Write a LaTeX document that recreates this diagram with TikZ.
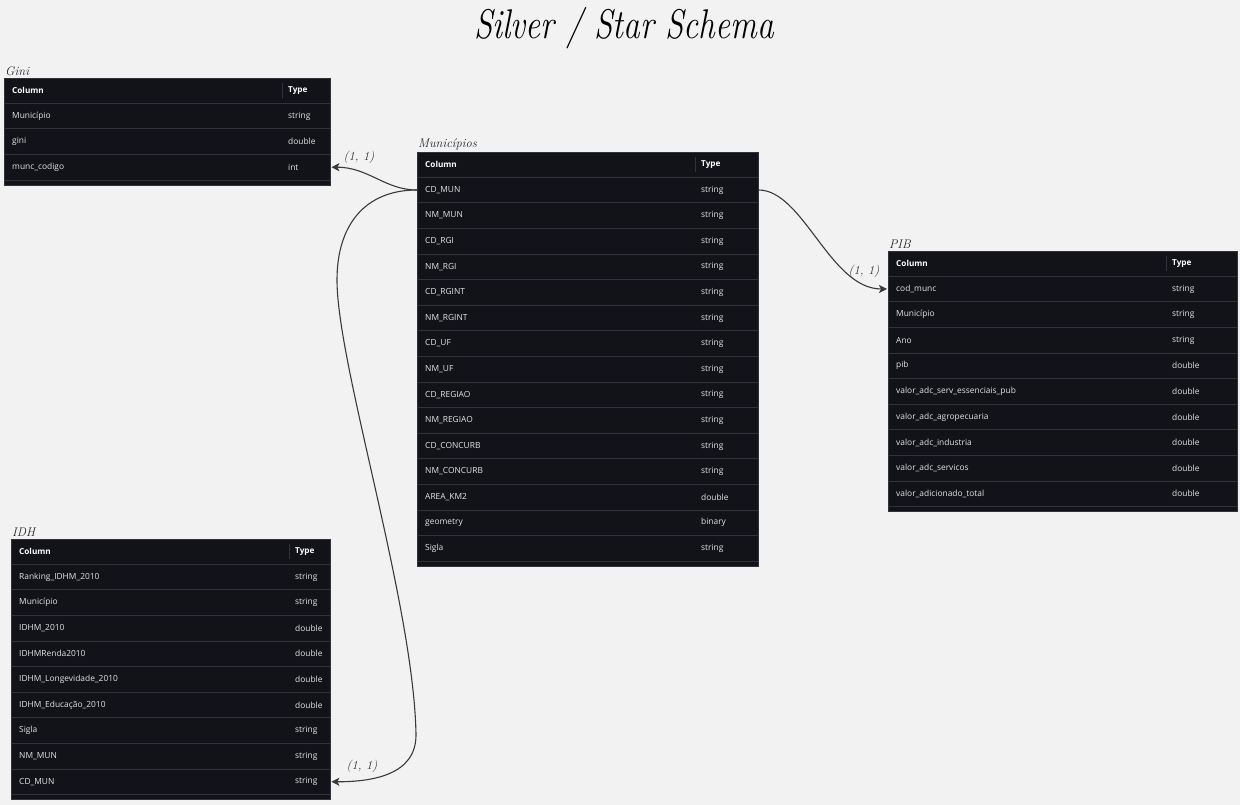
\documentclass[tikz,border=0pt]{standalone}
\usepackage{fontspec}
\usepackage{xcolor}
\usepackage{tikz}
\usetikzlibrary{arrows.meta,positioning,calc}
\newfontfamily\tblfont{Open Sans}
\definecolor{pagebg}{HTML}{F2F2F2}
\definecolor{tblfill}{HTML}{111318}
\definecolor{tblline}{HTML}{30343A}
\definecolor{tbltext}{HTML}{E2E4E7}
\definecolor{linkgray}{HTML}{3A3A3A}

% #1 name, #2 caption, #3 top left, #4 width, #5 rows, #6 column/type list
\newcommand{\dbtable}[6]{%
  \node[tbl,minimum width=#4,minimum height={30pt+#5*25.6pt},anchor=north west] (#1) at #3 {};
  \node[caption,anchor=south west] at ([yshift=1pt]#1.north west) {#2};
  \node[hdr,minimum width=#4,anchor=north west] (#1-0) at (#1.north west) {};
  \node[head,anchor=west] at ([xshift=8pt]#1-0.west) {Column};
  \node[head,anchor=west] at ([xshift=284pt]#1-0.west) {Type};
  \draw[tblline] ([xshift=278pt,yshift=-5pt]#1-0.north west) -- ([xshift=278pt,yshift=5pt]#1-0.south west);
  \foreach \col/\typ [count=\i] in {#6} {
    \node[rowbox,minimum width=#4,anchor=north west] (#1-\i) at ([yshift={-25pt-(\i-1)*25.6pt}]#1.north west) {};
    \draw[tblline] (#1-\i.north west) -- (#1-\i.north east);
    \node[cell,anchor=west] at ([xshift=8pt]#1-\i.west) {\col};
    \node[cell,anchor=west] at ([xshift=284pt]#1-\i.west) {\typ};
  }
  \draw[tblline] ([yshift={-25pt-#5*25.6pt}]#1.north west) -- ++(#4,0);
}

\begin{document}
\begin{tikzpicture}[x=1pt,y=1pt,
  tbl/.style={fill=tblfill,draw=tblline,line width=0.6pt,inner sep=0pt},
  hdr/.style={inner sep=0pt,minimum height=25pt},
  rowbox/.style={inner sep=0pt,minimum height=25.6pt},
  head/.style={font=\tblfont\fontsize{8.2}{9}\selectfont\bfseries,text=white,inner sep=0pt},
  cell/.style={font=\tblfont\fontsize{8.4}{9}\selectfont,text=tbltext,inner sep=0pt},
  caption/.style={font=\fontsize{12.5}{14}\selectfont\itshape,text=black!85,inner sep=1pt},
  card/.style={font=\fontsize{12.5}{14}\selectfont\itshape,text=black!80},
  rel/.style={-{Stealth[length=8pt,width=8pt,inset=2pt]},linkgray,line width=1.1pt,shorten >=1pt}]
\useasboundingbox[fill=pagebg] (0,0) rectangle (1240,805);

\node[font=\fontsize{34}{40}\selectfont\itshape] (title) at (624,777)
  {\scalebox{0.98}[1.22]{Silver / Star Schema}};

\dbtable{gini}{Gini}{(4,727)}{326pt}{3}{Município/string,gini/double,munc\_codigo/int}
\dbtable{mun}{Municípios}{(417,653)}{341pt}{15}{CD\_MUN/string,NM\_MUN/string,CD\_RGI/string,
  NM\_RGI/string,CD\_RGINT/string,NM\_RGINT/string,CD\_UF/string,NM\_UF/string,
  CD\_REGIAO/string,NM\_REGIAO/string,CD\_CONCURB/string,NM\_CONCURB/string,
  AREA\_KM2/double,geometry/binary,Sigla/string}
\dbtable{pib}{PIB}{(888,554)}{349pt}{9}{cod\_munc/string,Município/string,Ano/string,
  pib/double,valor\_adc\_serv\_essenciais\_pub/double,valor\_adc\_agropecuaria/double,
  valor\_adc\_industria/double,valor\_adc\_servicos/double,valor\_adicionado\_total/double}
\dbtable{idh}{IDH}{(11,266)}{319pt}{9}{Ranking\_IDHM\_2010/string,Município/string,
  IDHM\_2010/double,IDHMRenda2010/double,IDHM\_Longevidade\_2010/double,
  IDHM\_Educação\_2010/double,Sigla/string,NM\_MUN/string,CD\_MUN/string}

% relations
\draw[rel] (mun-1.west) .. controls +(-32,0) and +(38,0) .. (gini-3.east);
\draw[rel] (mun-1.west) .. controls +(-52,0) and (337,580) .. (337,525)
  .. controls (337,440) and (414,200) .. (416,70)
  .. controls (416,30) and +(42,0) .. (idh-9.east);
\draw[rel] (mun-1.east) .. controls +(45,0) and +(-58,0) .. (pib-1.west);
\node[card] (c-gini) at (359,648) {(1, 1)};
\node[card] (c-idh) at (362,39) {(1, 1)};
\node[card] (c-pib) at (864,534) {(1, 1)};
\end{tikzpicture}
\end{document}
